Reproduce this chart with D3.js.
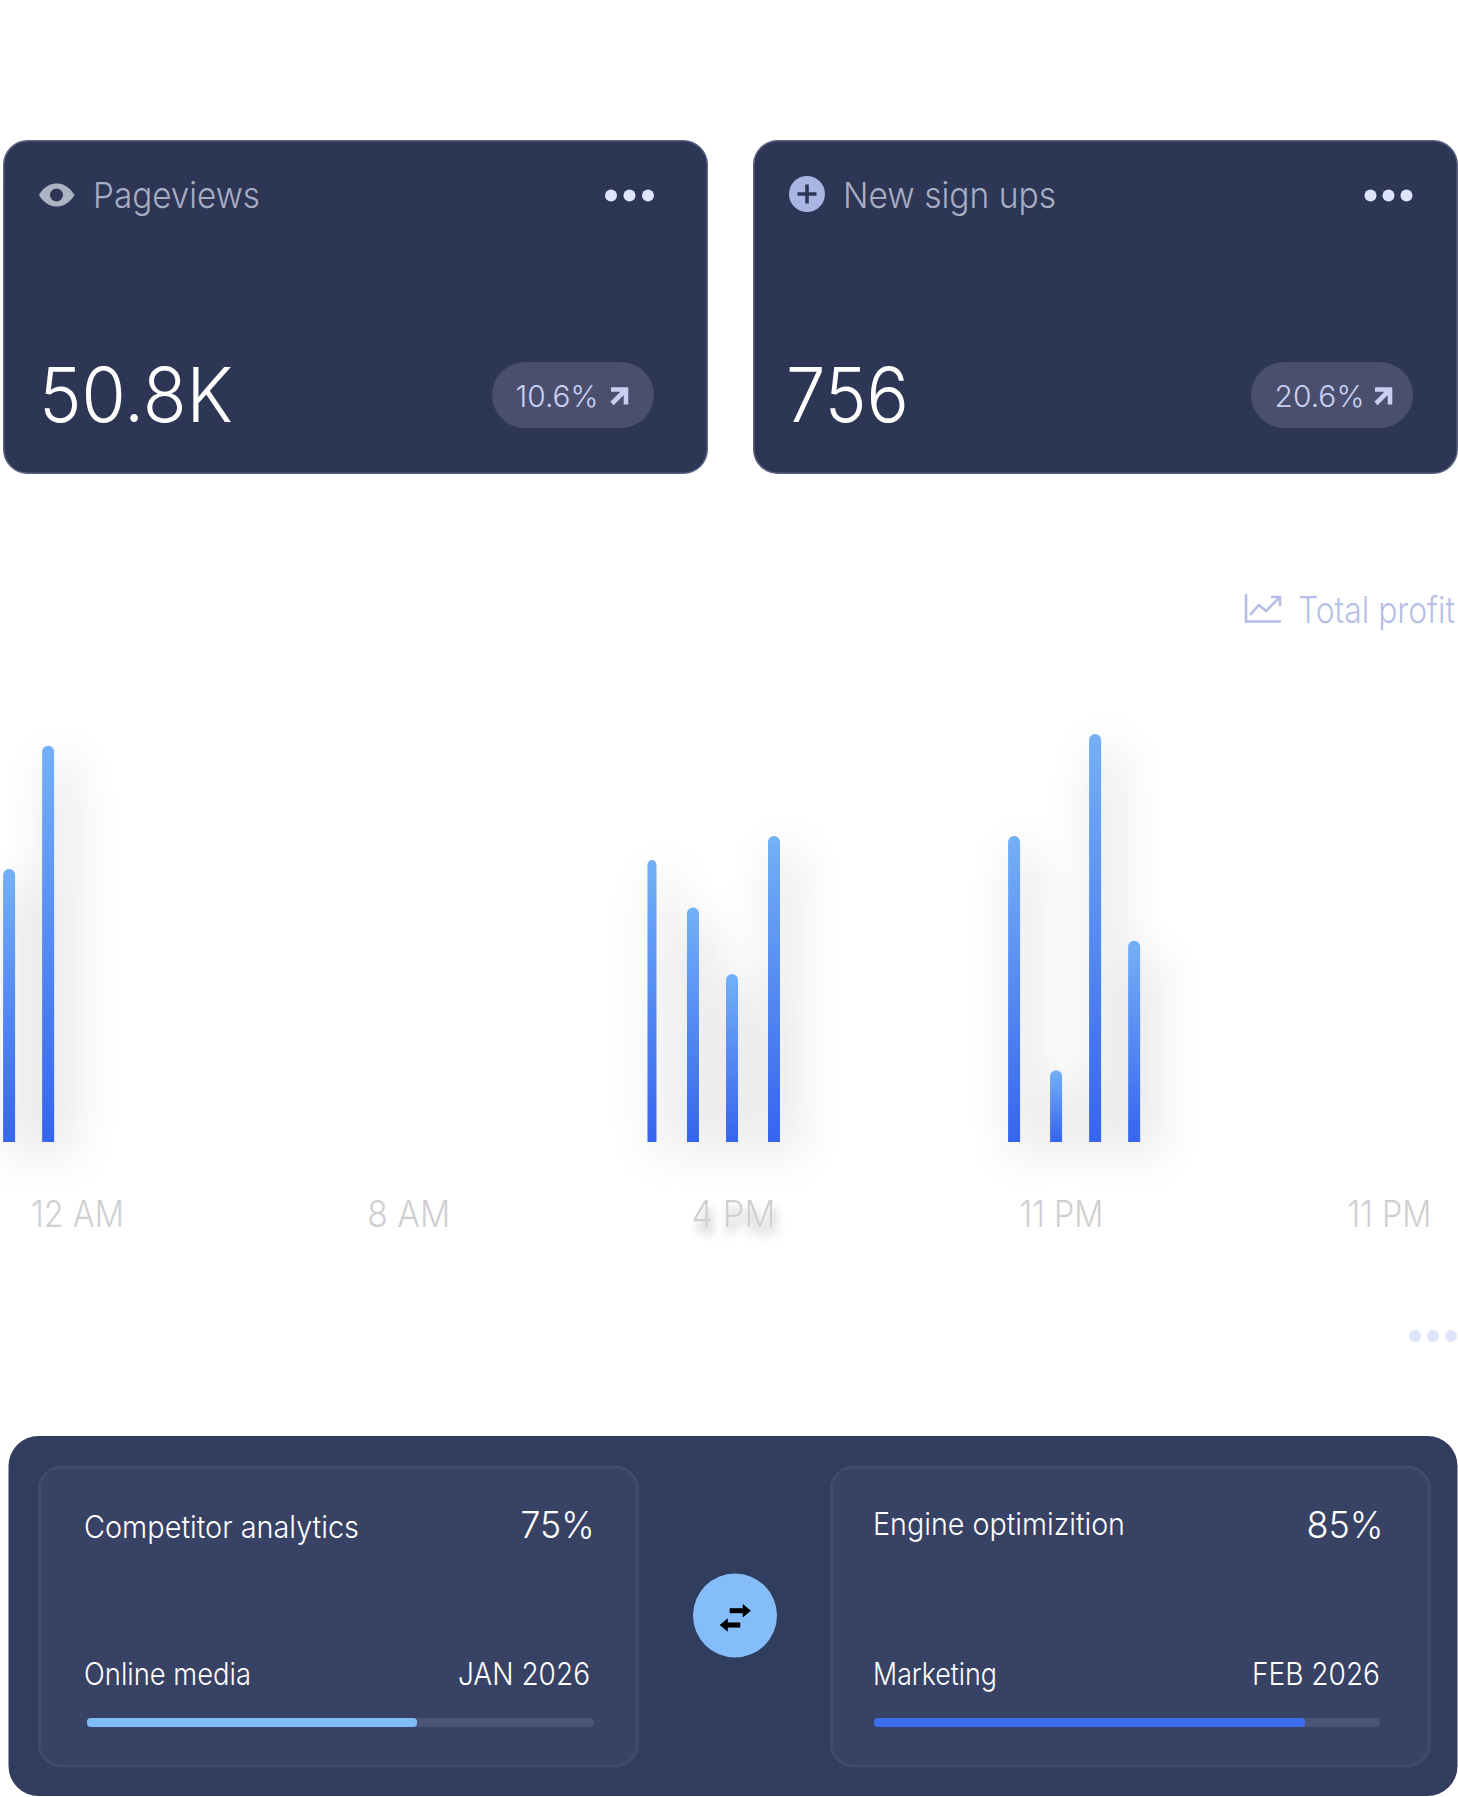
<!DOCTYPE html>
<html>
<head>
<meta charset="utf-8">
<script src="https://cdn.jsdelivr.net/npm/d3@7"></script>
<style>
  html, body { margin: 0; padding: 0; background: #fff; }
  svg { display: block; font-family: "Inter", "Lato", sans-serif; }
</style>
</head>
<body>
<div id="chart"></div>
<script>
// Chart values
const tickLabels = ["12 AM", "8 AM", "4 PM", "11 PM", "11 PM"];
const tickSlots = [0, 1.01, 2, 3, 4];
const barSlots = [-0.207, -0.088, 1.753, 1.878, 1.997, 2.125, 2.857, 2.985, 3.104, 3.223];
const barValues = [66.9, 97.1, 69.1, 57.5, 41.2, 75, 75, 17.6, 100, 49.3];

const statTitles = ["Pageviews", "New sign ups"];
const statValues = ["50.8K", "756"];
const statChanges = ["10.6%", "20.6%"];

const progressTitles = ["Competitor analytics", "Engine optimizition"];
const progressPercents = ["75%", "85%"];
const progressTags = ["Online media", "Marketing"];
const progressDates = ["JAN 2026", "FEB 2026"];
const progressFilled = [65.1, 85.2];

const width = 1458,
  height = 1797;

const svg = d3.select("#chart").append("svg").attr("width", width).attr("height", height);
const defs = svg.append("defs");

// Helper for text fitted to the measured width
function label(parent, str, x, y, size, fill, fitWidth, weight = 300) {
  return parent
    .append("text")
    .attr("x", x)
    .attr("y", y)
    .attr("font-size", size)
    .attr("font-weight", weight)
    .attr("fill", fill)
    .attr("textLength", fitWidth)
    .attr("lengthAdjust", "spacingAndGlyphs")
    .text(str);
}

function dots(parent, xs, y, fill) {
  xs.forEach((x) => parent.append("circle").attr("cx", x).attr("cy", y).attr("r", 6).attr("fill", fill));
}

// Bar gradient and shadow blur
const grad = defs.append("linearGradient").attr("id", "barFill").attr("x1", 0).attr("y1", 0).attr("x2", 0).attr("y2", 1);
grad.append("stop").attr("offset", "0%").attr("stop-color", "#74b0f6");
grad.append("stop").attr("offset", "100%").attr("stop-color", "#3565ee");

defs.append("filter").attr("id", "barBlur").attr("x", "-1500%").attr("y", "-40%").attr("width", "3200%").attr("height", "180%")
  .append("feGaussianBlur").attr("stdDeviation", 24);
defs.append("filter").attr("id", "tickShadow").attr("x", "-30%").attr("y", "-50%").attr("width", "160%").attr("height", "220%")
  .append("feDropShadow").attr("dx", 3).attr("dy", 9).attr("stdDeviation", 5).attr("flood-color", "#000").attr("flood-opacity", 0.28);

// Top stat cards
const cardX = [3, 753];
statTitles.forEach((title, i) => {
  const g = svg.append("g");
  g.append("rect")
    .attr("x", cardX[i] + 0.75).attr("y", 140.75)
    .attr("width", 703.5).attr("height", 332.5)
    .attr("rx", 24)
    .attr("fill", "#2d3654")
    .attr("stroke", "#5c6282").attr("stroke-width", 1.5);

  // more dots
  dots(g, i === 0 ? [611, 629.5, 648] : [1370.5, 1388.5, 1406.5], 195.5, "#dde4fc");

  // change pill
  const pillX = i === 0 ? 492 : 1251;
  g.append("rect").attr("x", pillX).attr("y", 362).attr("width", 162).attr("height", 66).attr("rx", 33).attr("fill", "#4a4f6e");
  const arrowX = i === 0 ? 610 : 1374;
  g.append("path")
    .attr("d", `M${arrowX + 1},389.5 H${arrowX + 16} V404.5 M${arrowX + 15.5},390 L${arrowX + 2},403.5`)
    .attr("fill", "none").attr("stroke", "#c9cff2").attr("stroke-width", 4.6);

  label(g, statValues[i], i === 0 ? 39 : 786, 422, 75, "#fff", i === 0 ? 194 : 123, 300);
  label(g, statChanges[i], i === 0 ? 515.5 : 1274.5, 406.5, 30, "#c9cff2", i === 0 ? 83 : 90, 300);
  label(g, title, i === 0 ? 93 : 843, 207.5, 36, "#a7aec4", i === 0 ? 167 : 213, 300);
});

// Eye icon
const eye = svg.append("g");
eye.append("path")
  .attr("d", "M39,195 C46,183 56,183.5 56.5,183.5 C58,183.5 67,183 74.5,195 C67,207 58,206.5 56.5,206.5 C56,206.5 46,207 39,195 Z")
  .attr("fill", "#aeb3c4");
eye.append("circle").attr("cx", 56.5).attr("cy", 195).attr("r", 6.5).attr("fill", "#2d3654");

// Plus icon
const plus = svg.append("g");
plus.append("circle").attr("cx", 807).attr("cy", 194).attr("r", 18).attr("fill", "#a9b5e2");
plus.append("path").attr("d", "M807,184.5 V203.5 M797.5,194 H816.5").attr("stroke", "#2d3654").attr("stroke-width", 3.6).attr("fill", "none");

// Legend
const legend = svg.append("g");
legend.append("path")
  .attr("d", "M1246,594 V621.5 H1281 M1250,615 L1259,605 L1266,611 L1279,598 M1271,597 H1280 V606")
  .attr("fill", "none").attr("stroke", "#b3bde6").attr("stroke-width", 2.6);
label(legend, "Total profit", 1298, 623, 37, "#b5bfe8", 157, 300);
dots(svg, [1415, 1433, 1451], 1336, "#dde4fb");

// Scales
const x = d3.scaleLinear().domain([0, 4]).range([77, 1389]);
const y = d3.scaleLinear().domain([0, 100]).range([1142, 734]);

const barData = barValues.map((value, i) => ({ value, slot: barSlots[i], w: i === 2 ? 9 : 12 }));

// Bar outline: flat base, rounded top
function barPath(d) {
  const x0 = x(d.slot) - d.w / 2,
    x1 = x(d.slot) + d.w / 2,
    r = d.w / 2;
  const p = d3.path();
  p.moveTo(x0, y(0));
  p.lineTo(x0, y(d.value) + r);
  p.arc(x(d.slot), y(d.value) + r, r, Math.PI, 0);
  p.lineTo(x1, y(0));
  p.closePath();
  return p.toString();
}

// Soft shadows behind the bars
svg.append("g")
  .attr("transform", "translate(12,14)")
  .selectAll(".bar-shadow")
  .data(barData)
  .enter()
  .append("path")
  .attr("class", "bar-shadow")
  .attr("d", barPath)
  .attr("fill", "#000")
  .attr("opacity", 0.25)
  .attr("filter", "url(#barBlur)");

svg.append("g")
  .selectAll(".bar")
  .data(barData)
  .enter()
  .append("path")
  .attr("class", "bar")
  .attr("d", barPath)
  .attr("fill", "url(#barFill)");

// X axis
const tickWidths = [93, 83, 84, 84, 84];
const axis = svg.append("g")
  .attr("transform", "translate(0,1226.5)")
  .call(d3.axisBottom(x).tickValues(tickSlots).tickSize(0).tickPadding(0).tickFormat((d) => tickLabels[tickSlots.indexOf(d)]));
axis.select(".domain").remove();
axis.selectAll("text")
  .attr("y", 0).attr("dy", 0)
  .attr("font-size", 37).attr("font-weight", 300).attr("font-family", "Inter, Lato, sans-serif")
  .attr("fill", "#cfcfd1")
  .attr("textLength", (d) => tickWidths[tickSlots.indexOf(d)])
  .attr("lengthAdjust", "spacingAndGlyphs")
  .attr("filter", (d) => (d === 2 ? "url(#tickShadow)" : null));

// Bottom panel
const panel = svg.append("g");
panel.append("rect").attr("x", 8.5).attr("y", 1436).attr("width", 1449).attr("height", 360).attr("rx", 30).attr("fill", "#313d5e");

const innerX = [39.5, 831.5];
const textX = [84, 873];
const percentX = [520.5, 1306.5];
const percentW = [74, 77];
const titleW = [275, 252];
const titleY = [1537.5, 1535];
const tagW = [167, 124];
const dateX = [458, 1252];
const dateW = [132, 128];
const trackX = [87, 874];
const trackW = [507, 506];
const fillColors = ["#81bbf8", "#3c6fef"];

progressTitles.forEach((title, i) => {
  const g = panel.append("g");
  g.append("rect")
    .attr("x", innerX[i]).attr("y", 1467)
    .attr("width", 598).attr("height", 299)
    .attr("rx", 22)
    .attr("fill", "#384264")
    .attr("stroke", "#3f4a6c").attr("stroke-width", 3);

  label(g, title, textX[i], titleY[i], 31, "#fff", titleW[i], 300);
  label(g, progressPercents[i], percentX[i], 1537.5, 37, "#fff", percentW[i], 300);
  label(g, progressTags[i], textX[i], 1685, 31, "#fff", tagW[i], 300);
  label(g, progressDates[i], dateX[i], 1685, 31, "#fff", dateW[i], 300);

  const bar = d3.scaleLinear().domain([0, 100]).range([trackX[i], trackX[i] + trackW[i]]);
  g.append("rect").attr("x", bar(0)).attr("y", 1718).attr("width", bar(100) - bar(0)).attr("height", 9).attr("rx", 4).attr("fill", "#4a5475");
  g.append("rect").attr("x", bar(0)).attr("y", 1718).attr("width", bar(progressFilled[i]) - bar(0)).attr("height", 9).attr("rx", 4).attr("fill", fillColors[i]);
});

// Swap button
const swap = panel.append("g");
swap.append("circle").attr("cx", 735).attr("cy", 1615.5).attr("r", 42).attr("fill", "#85bdfa");
swap.append("path").attr("d", "M730,1608.5 H743 V1604.5 L750.5,1610.7 L743,1617 V1612.9 H730 Z M740,1622.8 H727.5 V1618.8 L720,1625 L727.5,1631.2 V1627.2 H740 Z")
  .attr("fill", "#000").attr("stroke", "#000").attr("stroke-width", 0.6).attr("stroke-linejoin", "round");
</script>
</body>
</html>
